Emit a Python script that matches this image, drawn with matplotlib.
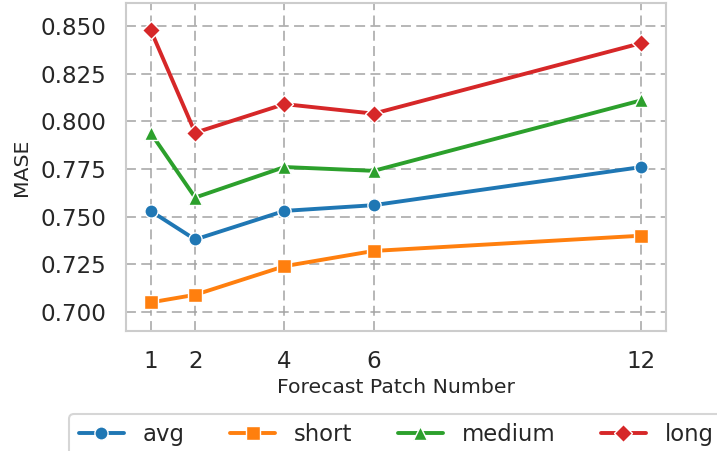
import matplotlib.pyplot as plt
import seaborn as sns
from matplotlib.ticker import FormatStrFormatter

# values
patch_numbers = [1, 2, 4, 6, 12]
avg_mase = [0.753, 0.738, 0.753, 0.756, 0.776]
short_mase = [0.705, 0.709, 0.724, 0.732, 0.740]
medium_mase = [0.794, 0.760, 0.776, 0.774, 0.811]
long_mase = [0.848, 0.794, 0.809, 0.804, 0.841]
y_ticks = [0.700, 0.725, 0.750, 0.775, 0.800, 0.825, 0.850]

series = [
    ('avg', avg_mase, '#1f77b4', 'o', 9.5),
    ('short', short_mase, '#ff7f0e', 's', 9.5),
    ('medium', medium_mase, '#2ca02c', '^', 10.5),
    ('long', long_mase, '#d62728', 'D', 9.5),
]

sns.set_style('whitegrid')
plt.rcParams['font.family'] = ['DejaVu Sans']

fig = plt.figure(figsize=(7.17, 4.51), dpi=100)
ax = fig.add_axes([0.1757, 0.266, 0.7532, 0.7273])

# Draw each series with white-edged markers
for label, values, color, marker, size in series:
    ax.plot(patch_numbers, values, color=color, marker=marker, markersize=size,
            markeredgecolor='white', markeredgewidth=1.0, linewidth=2.8, label=label)

ax.set_xticks(patch_numbers)
ax.set_yticks(y_ticks)
ax.yaxis.set_major_formatter(FormatStrFormatter('%.3f'))
ax.set_ylim(0.690, 0.862)
ax.set_xlim(0.45, 12.55)

ax.grid(True, color='#a3a3a3', linestyle=(0, (6.5, 3.5)), linewidth=1.1)
for spine in ax.spines.values():
    spine.set_color('#cccccc')
    spine.set_linewidth(1.5)

ax.tick_params(axis='both', length=0, labelsize=16.6, colors='#262626', pad=14)
ax.set_xlabel('Forecast Patch Number', fontsize=14.7, color='#262626', labelpad=3.5)
ax.set_ylabel('MASE', fontsize=14.7, color='#262626', labelpad=7)

leg = ax.legend(loc='upper center', bbox_to_anchor=(0.5, -0.253), borderaxespad=0,
                ncol=4, fontsize=16.4, frameon=True, fancybox=True)
leg.get_frame().set_edgecolor('#cccccc')
leg.get_frame().set_linewidth(1.5)

fig.savefig('out.png', dpi=100)
